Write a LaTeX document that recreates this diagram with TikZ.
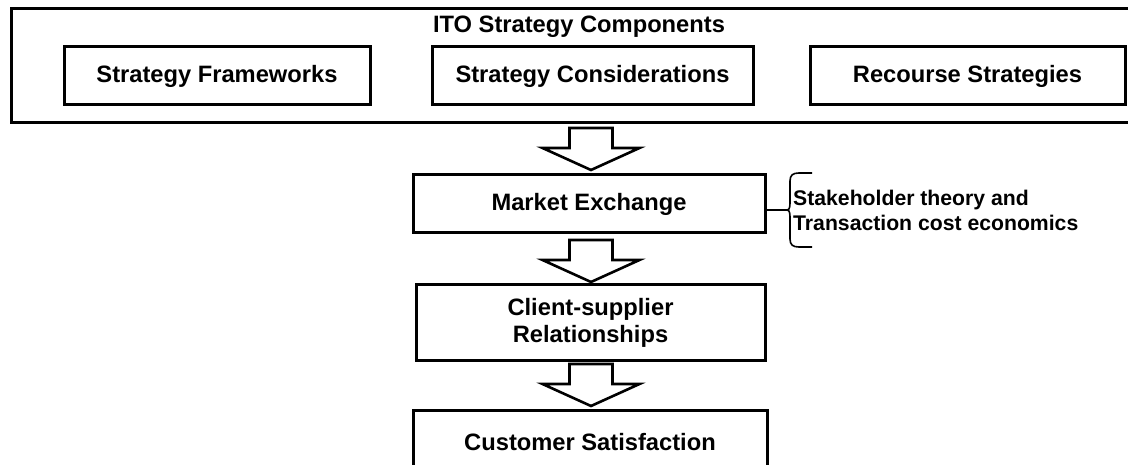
\documentclass[tikz,border=0pt]{standalone}
\usepackage{fontspec}
\setmainfont{Liberation Sans}
\begin{document}
\begin{tikzpicture}[x=1pt,y=-1pt,
  box/.style={draw,line width=3pt,rectangle,inner sep=0pt,align=center,
    font=\fontsize{23.7}{27}\selectfont\bfseries},
  label/.style={inner sep=0pt,align=left,font=\fontsize{21.2}{25}\selectfont\bfseries},
  blockarrow/.style={draw,line width=2.6pt,fill=white,line join=miter},
  bracket/.style={draw,line width=1.6pt},
  pics/downarrow/.style={code={
    \draw[blockarrow] (-21.5,0) -- (21.5,0) -- (21.5,20) -- (48.5,20)
      -- (0,42) -- (-48.5,20) -- (-21.5,20) -- cycle;}}]
\useasboundingbox (0,0) rectangle (1128,465);
\clip (0,0) rectangle (1128,465);

% outer frame holding the three strategy components
\node[box,minimum width=1125pt,minimum height=114pt,anchor=north west] (frame) at (10,7) {};
\node[inner sep=0pt,font=\fontsize{23.7}{27}\selectfont\bfseries] (title) at (579,27) {ITO Strategy Components};
\node[box,minimum width=306pt,minimum height=58pt] (frameworks) at (217,76) {Strategy Frameworks};
\node[box,minimum width=321pt,minimum height=58pt] (considerations) at (592.5,76) {Strategy Considerations};
\node[box,minimum width=315pt,minimum height=58pt] (recourse) at (967.5,76) {Recourse Strategies};

% chain of outcomes
\node[box,minimum width=352pt,minimum height=58pt] (market) at (589,204) {Market Exchange};
\node[box,minimum width=349pt,minimum height=75pt] (client) at (590.5,322.5) {Client-supplier\\Relationships};
\node[box,minimum width=354pt,minimum height=64pt] (customer) at (590,442) {Customer Satisfaction};

% block arrows between the stages
\pic at (591,128) {downarrow};
\pic at (591,240) {downarrow};
\pic at (591,364) {downarrow};

% theoretical grounding attached to the market exchange
\coordinate (bcusp) at (787,210);
\draw[bracket] (market.east |- bcusp) -- (bcusp)
  .. controls (790,210) and (790,206) .. (790,200) -- (790,181)
  .. controls (790,175) and (793,173) .. (799,173) -- (812,173);
\draw[bracket] (bcusp)
  .. controls (790,210) and (790,214) .. (790,220) -- (790,239)
  .. controls (790,245) and (793,247) .. (799,247) -- (812,247);
\node[label,anchor=west] (theory) at (793,210.5) {Stakeholder theory and\\Transaction cost economics};
\end{tikzpicture}
\end{document}
